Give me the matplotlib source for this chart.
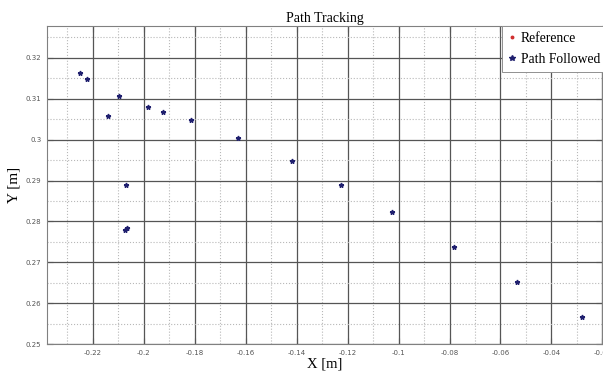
import numpy as np
import matplotlib.pyplot as plt
from matplotlib.ticker import MultipleLocator

# path followed
path_x = [-0.2250, -0.2224, -0.2098, -0.2142, -0.1982, -0.1924, -0.1816, -0.1631,
          -0.1420, -0.2071, -0.1225, -0.2072, -0.2065, -0.1026, -0.0782, -0.0536, -0.0282]
path_y = [0.3162, 0.3148, 0.3107, 0.3057, 0.3079, 0.3068, 0.3048, 0.3004,
          0.2949, 0.2890, 0.2890, 0.2780, 0.2785, 0.2823, 0.2738, 0.2653, 0.2566]
# reference points are hidden under the followed path
ref_x = []
ref_y = []

xticks = [-0.22, -0.2, -0.18, -0.16, -0.14, -0.12, -0.1, -0.08, -0.06, -0.04, -0.02]
xtick_labels = ['-0.22', '-0.2', '-0.18', '-0.16', '-0.14', '-0.12', '-0.1', '-0.08', '-0.06', '-0.04', '-0.02']
yticks = [0.25, 0.26, 0.27, 0.28, 0.29, 0.3, 0.31, 0.32]
ytick_labels = ['0.25', '0.26', '0.27', '0.28', '0.29', '0.3', '0.31', '0.32']

serif = ['Liberation Serif', 'DejaVu Serif']

fig = plt.figure(figsize=(6.03, 3.72), dpi=100)
ax = fig.add_axes([0.078, 0.075, 0.921, 0.855])

ax.plot(ref_x, ref_y, '.', color='#d03030', markersize=3, label='Reference')
ax.plot(path_x, path_y, '*', color='#1f1f6e', markersize=3.5, label='Path Followed')

ax.set_xlim(-0.238, -0.02)
ax.set_ylim(0.25, 0.3278)
ax.set_xticks(xticks)
ax.set_xticklabels(xtick_labels)
ax.set_yticks(yticks)
ax.set_yticklabels(ytick_labels)
ax.xaxis.set_minor_locator(MultipleLocator(0.01))
ax.yaxis.set_minor_locator(MultipleLocator(0.005))

ax.grid(which='major', color='#555555', linestyle='-', linewidth=0.9)
ax.grid(which='minor', color='#b8b8b8', linestyle=':', linewidth=0.8)
ax.set_axisbelow(True)

ax.tick_params(which='major', direction='in', length=4, width=0.8, color='#555555',
               labelsize=5, labelcolor='#555555', top=True, right=True, pad=4)
ax.tick_params(which='minor', length=0)
for s in ax.spines.values():
    s.set_color('#808080')
    s.set_linewidth(0.8)

ax.set_title('Path Tracking', fontsize=10, family=serif, pad=3)
ax.set_xlabel('X [m]', fontsize=10.5, family=serif, labelpad=1)
ax.set_ylabel('Y [m]', fontsize=11, family=serif, labelpad=4)

leg = ax.legend(loc='upper left', bbox_to_anchor=(0.819, 1.0),
                prop={'family': serif, 'size': 9.8},
                fancybox=False, framealpha=1, edgecolor='#909090',
                borderpad=0.45, handlelength=0.6, handletextpad=0.35,
                labelspacing=0.55, borderaxespad=0.0, markerscale=1.2)
leg.get_frame().set_linewidth(0.7)

fig.savefig('out.png', dpi=100)
